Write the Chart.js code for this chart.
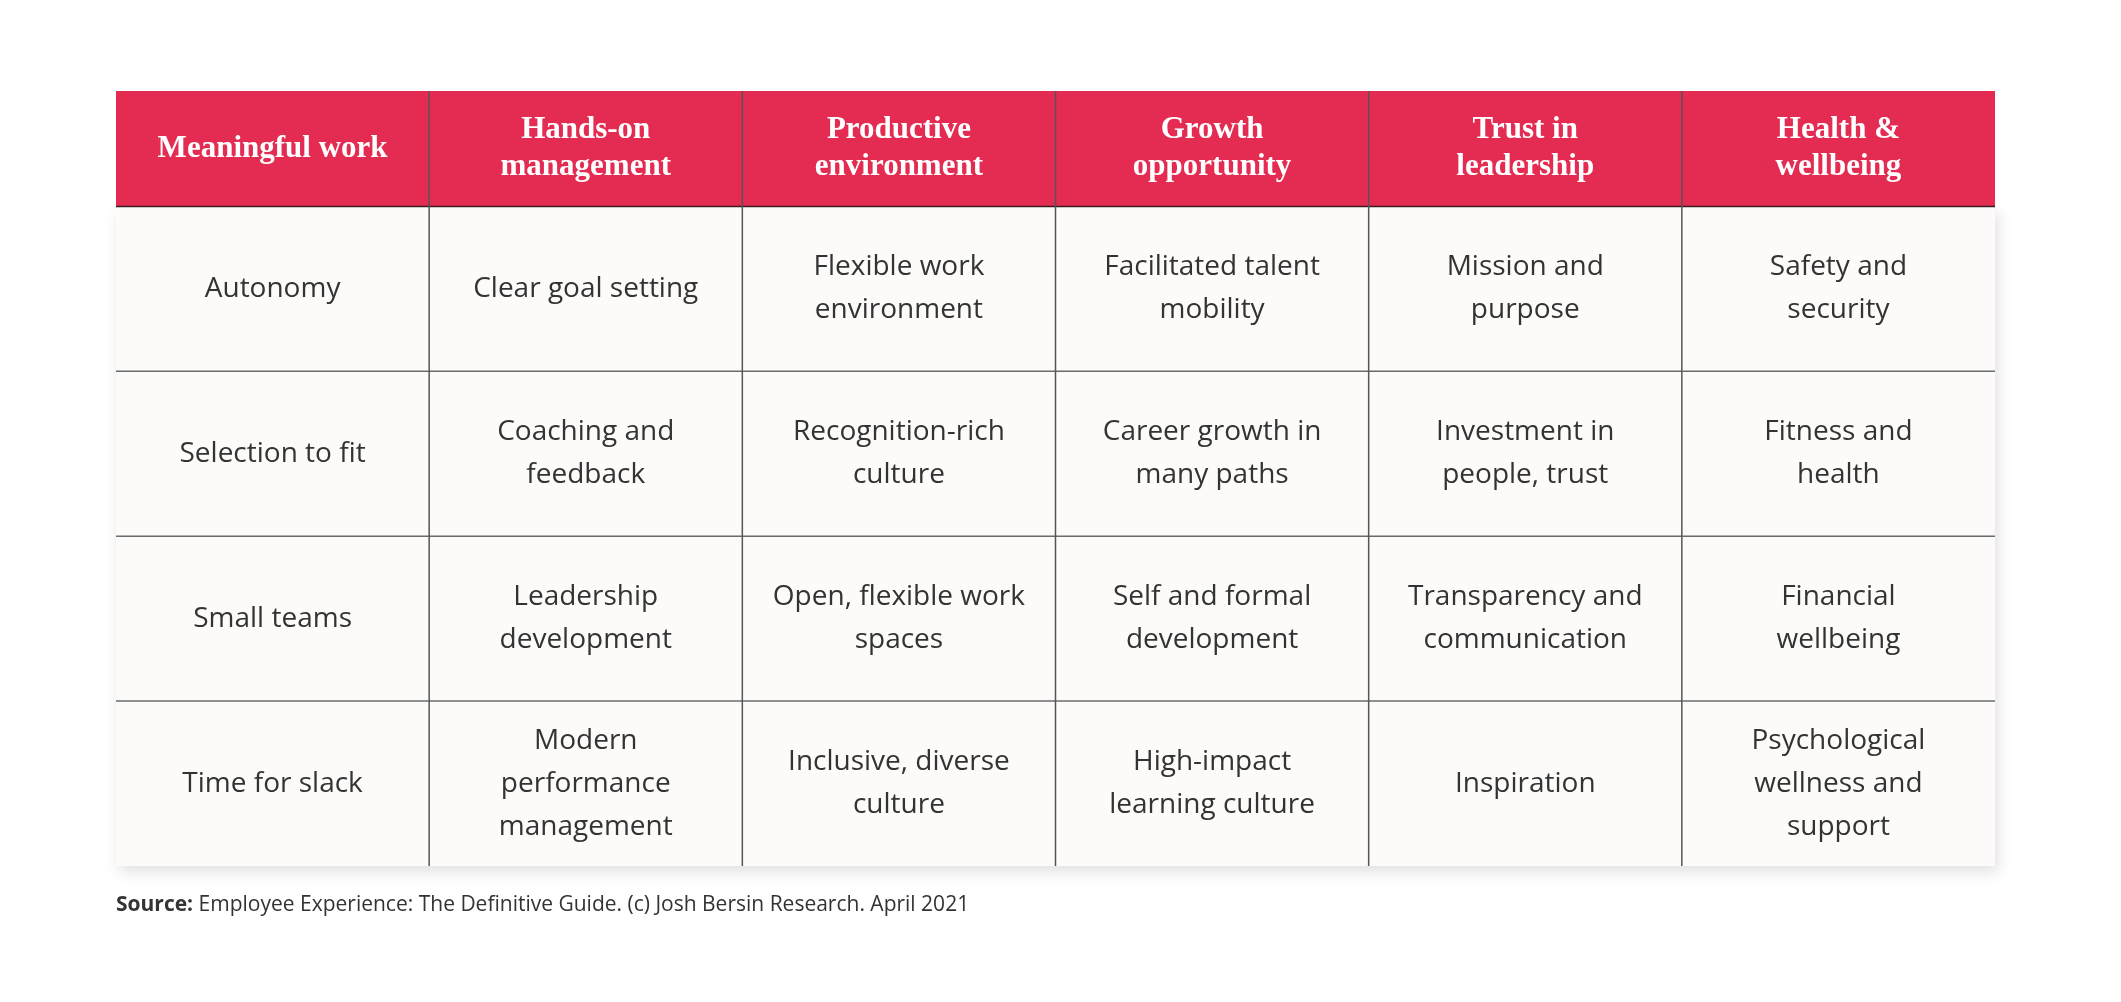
<!DOCTYPE html>
<html>
<head>
<meta charset="utf-8">
<style>
  html, body { margin: 0; padding: 0; background: #ffffff; }
  #wrap { width: 2121px; height: 1002px; position: relative; }
</style>
<script src="https://cdn.jsdelivr.net/npm/chart.js@4"></script>
</head>
<body>
<div id="wrap"><canvas id="myChart" width="2121" height="1002"></canvas></div>
<script>
// Intestazioni delle colonne (una riga per elemento)
const headers = [
  ['Meaningful work'],
  ['Hands-on', 'management'],
  ['Productive', 'environment'],
  ['Growth', 'opportunity'],
  ['Trust in', 'leadership'],
  ['Health &', 'wellbeing']
];

// Contenuto delle celle, riga per riga
const row1 = [['Autonomy'], ['Clear goal setting'], ['Flexible work', 'environment'], ['Facilitated talent', 'mobility'], ['Mission and', 'purpose'], ['Safety and', 'security']];
const row2 = [['Selection to fit'], ['Coaching and', 'feedback'], ['Recognition-rich', 'culture'], ['Career growth in', 'many paths'], ['Investment in', 'people, trust'], ['Fitness and', 'health']];
const row3 = [['Small teams'], ['Leadership', 'development'], ['Open, flexible work', 'spaces'], ['Self and formal', 'development'], ['Transparency and', 'communication'], ['Financial', 'wellbeing']];
const row4 = [['Time for slack'], ['Modern', 'performance', 'management'], ['Inclusive, diverse', 'culture'], ['High-impact', 'learning culture'], ['Inspiration'], ['Psychological', 'wellness and', 'support']];
const rows = [row1, row2, row3, row4];

const source = 'Employee Experience: The Definitive Guide. (c) Josh Bersin Research. April 2021';

const headH = 0.7;   // altezza relativa dell'intestazione
const yMax = headH + rows.length;

const ctx = document.getElementById('myChart').getContext('2d');

// Disegna la tabella usando le scale di Chart.js
const tablePlugin = {
  id: 'table',
  beforeDatasetsDraw(chart) {
    const c = chart.ctx;
    const x = chart.scales.x, y = chart.scales.y;
    const X = v => x.getPixelForValue(v);
    const Y = v => y.getPixelForValue(v);
    const left = X(0), right = X(headers.length);
    const top = Y(yMax), hb = Y(yMax - headH), bottom = Y(0);

    // corpo con ombra
    c.save();
    c.shadowColor = 'rgba(0,0,0,0.12)';
    c.shadowBlur = 14;
    c.shadowOffsetX = 3;
    c.shadowOffsetY = 6;
    c.fillStyle = '#fcfbf9';
    c.fillRect(left, hb, right - left, bottom - hb);
    c.restore();

    // intestazione
    c.fillStyle = '#e42c52';
    c.fillRect(left, top, right - left, hb - top);

    // linee orizzontali
    c.strokeStyle = '#6b6b6b';
    c.lineWidth = 1.5;
    for (let r = 1; r < rows.length; r++) {
      c.beginPath(); c.moveTo(left, Y(r)); c.lineTo(right, Y(r)); c.stroke();
    }
    c.strokeStyle = '#3a1a22';
    c.beginPath(); c.moveTo(left, hb); c.lineTo(right, hb); c.stroke();

    // linee verticali
    c.strokeStyle = '#555555';
    for (let i = 1; i < headers.length; i++) {
      c.beginPath(); c.moveTo(X(i), top); c.lineTo(X(i), bottom); c.stroke();
    }

    c.textAlign = 'center';
    c.textBaseline = 'middle';

    // testo intestazione
    c.fillStyle = '#ffffff';
    c.font = 'bold 31px "Liberation Serif"';
    headers.forEach((lines, i) => {
      const cx = X(i + 0.5), cy = Y(yMax - headH / 2);
      lines.forEach((t, k) => c.fillText(t, cx, cy + (k - (lines.length - 1) / 2) * 37));
    });

    // testo celle
    c.fillStyle = '#333333';
    c.font = '28px "Open Sans"';
    rows.forEach((row, r) => {
      const cy = Y(rows.length - r - 0.5);
      row.forEach((lines, i) => {
        const cx = X(i + 0.5);
        lines.forEach((t, k) => c.fillText(t, cx, cy + (k - (lines.length - 1) / 2) * 43));
      });
    });

    // fonte
    c.textAlign = 'left';
    c.textBaseline = 'alphabetic';
    c.fillStyle = '#333333';
    c.font = 'bold 21px "Open Sans"';
    c.fillText('Source:', left, 911);
    const w = c.measureText('Source: ').width;
    c.font = '21px "Open Sans"';
    c.fillText(source, left + w, 911);
  }
};

const myChart = new Chart(ctx, {
  type: 'scatter',
  data: { datasets: [{ data: [], pointRadius: 0 }] },
  options: {
    responsive: false,
    animation: false,
    layout: { padding: { left: 116, right: 126, top: 91, bottom: 136 } },
    plugins: { legend: { display: false }, tooltip: { enabled: false } },
    scales: {
      x: { type: 'linear', min: 0, max: headers.length, display: false },
      y: { type: 'linear', min: 0, max: yMax, display: false }
    }
  },
  plugins: [tablePlugin]
});
</script>
</body>
</html>
